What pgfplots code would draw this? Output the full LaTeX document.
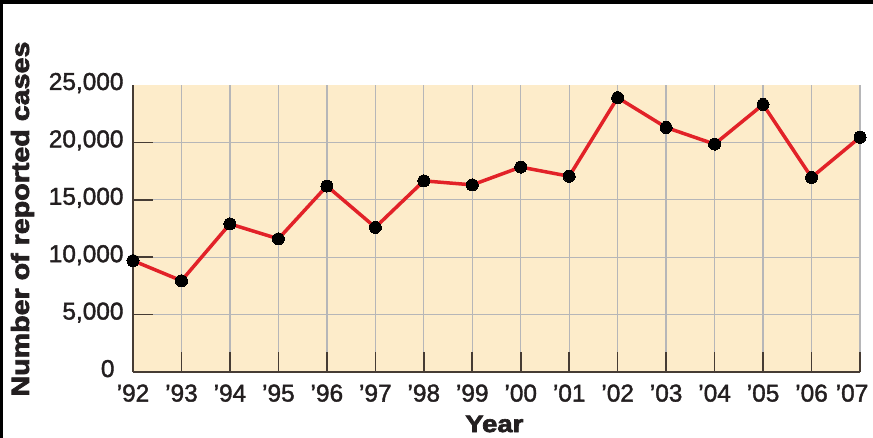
\documentclass[border=0pt]{standalone}
\usepackage{pgfplots}
\pgfplotsset{compat=1.18}
\usepackage{fontspec}
\setmainfont{Liberation Sans}
\newfontfamily\tickfont[FakeBold=1.6]{Liberation Sans}
\newfontfamily\labfont[FakeBold=2.6]{Liberation Sans Bold}
\definecolor{bgfill}{RGB}{253,236,202}
\definecolor{gridgray}{RGB}{182,182,184}
\definecolor{axisdark}{RGB}{70,60,52}
\definecolor{linered}{RGB}{226,34,40}
\definecolor{txt}{RGB}{35,31,32}
\pgfplotstableread{
x y
0 9700
1 7950
2 12900
3 11600
4 16200
5 12600
6 16650
7 16300
8 17850
9 17050
10 23900
11 21300
12 19850
13 23300
14 16950
15 20450
}\cases
\begin{document}
\begin{tikzpicture}
\useasboundingbox (0,0) rectangle (873bp,438bp);
\fill[black] (0,434bp) rectangle (873bp,438bp);
\fill[black] (0,0) rectangle (3bp,438bp);
\begin{axis}[
  at={(133bp,66bp)}, anchor=south west,
  scale only axis, width=727bp, height=287bp,
  xmin=0, xmax=15, ymin=0, ymax=25000,
  axis x line*=bottom, axis y line*=left,
  axis line style={axisdark, line width=1.8bp, -},
  axis background/.style={fill=bgfill},
  xtick={0,...,15},
  xticklabels={’92,’93,’94,’95,’96,’97,’98,’99,’00,’01,’02,’03,’04,’05,’06,{’07\hspace*{16bp}}},
  ytick={0,5000,10000,15000,20000},
  yticklabels={{\raisebox{3bp}{0}\hspace*{9bp}},5{,}000,10{,}000,15{,}000,20{,}000},
  extra y ticks={25000},
  extra y tick labels={25{,}000},
  extra y tick style={grid=none, major tick length=0pt},
  scaled y ticks=false,
  tick align=inside, major tick length=20bp,
  tick style={axisdark, line width=1.6bp},
  grid=major,
  major grid style={gridgray, line width=1.3bp},
  ticklabel style={font=\tickfont\fontsize{24.5}{25}\selectfont, text=txt},
  xticklabel style={yshift=-9bp},
  yticklabel style={xshift=-6bp, yshift=2bp},
  ylabel={\scalebox{1.15}[1]{Number of reported cases}},
  ylabel style={at={(axis description cs:-0.152,0.533)}, anchor=center, font=\labfont\fontsize{25}{26}\selectfont, text=txt},
  xlabel={\scalebox{1.15}[1]{Year}},
  xlabel style={at={(axis description cs:0.497,-0.181)}, anchor=center, font=\labfont\fontsize{24}{25}\selectfont, text=txt},
  clip=false,
]
\addplot[linered, line width=3.5bp, mark=*, mark size=6bp, mark options={fill=black, draw=black, line width=0pt}] table[x=x,y=y] {\cases};
\end{axis}
\end{tikzpicture}
\end{document}
